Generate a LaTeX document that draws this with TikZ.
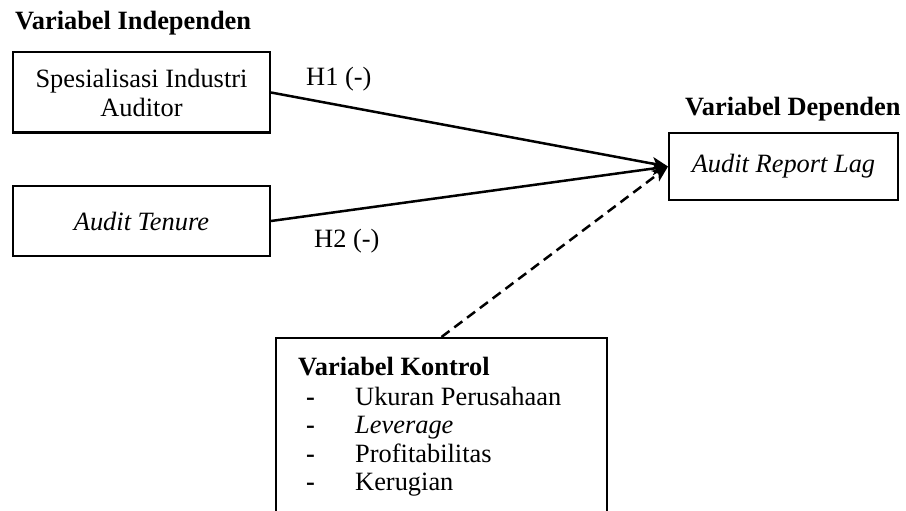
\documentclass[tikz,border=0pt]{standalone}
\usepackage{fontspec}
\setmainfont{Liberation Serif}
\usetikzlibrary{arrows.meta}
\begin{document}
\begin{tikzpicture}[x=1pt,y=-1pt,
  font=\fontsize{26.4}{29}\selectfont,
  box/.style={draw, line width=2pt, inner sep=0pt, align=center},
  lbl/.style={inner sep=0pt, anchor=base west},
  link/.style={line width=2.5pt, -{Stealth[length=16pt,width=13pt,inset=4pt]}}]
\useasboundingbox (0,0) rectangle (906,511);
\node[box, minimum width=257pt, minimum height=80pt] (spec) at (141.5,92.5) {Spesialisasi Industri\\Auditor};
\node[box, minimum width=257pt, minimum height=70pt] (ten) at (141.5,221) {\itshape Audit Tenure};
\node[box, minimum width=229pt, minimum height=67pt] (arl) at (783.5,166.5) {\itshape Audit Report Lag};
\node[box, minimum width=331pt, minimum height=182pt] (ctrl) at (441.5,429) {};
\node[lbl] (hind) at (15,30) {\bfseries Variabel Independen};
\node[lbl] (hdep) at (685,115) {\bfseries Variabel Dependen};
\node[lbl] (h1) at (306,86) {H1 (-)};
\node[lbl] (h2) at (314,247) {H2 (-)};
\node[lbl] (kt) at (298,375) {\bfseries Variabel Kontrol};
\node[lbl] (d1) at (306,405) {\bfseries -};
\node[lbl] (d2) at (306,433) {\bfseries -};
\node[lbl] (d3) at (306,462) {\bfseries -};
\node[lbl] (d4) at (306,490) {\bfseries -};
\node[lbl] (k1) at (355,405) {Ukuran Perusahaan};
\node[lbl] (k2) at (355,433) {\itshape Leverage};
\node[lbl] (k3) at (355,462) {Profitabilitas};
\node[lbl] (k4) at (355,490) {Kerugian};
\draw[link] (spec.east) -- (arl.west);
\draw[link] (ten.east) -- (arl.west);
\draw[link, dash pattern=on 10pt off 6pt] (ctrl.north) -- (arl.west);
\end{tikzpicture}
\end{document}
